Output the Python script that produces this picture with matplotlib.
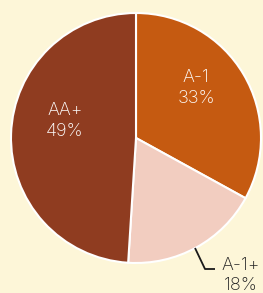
import matplotlib.pyplot as plt

labels = ['A-1', 'A-1+', 'AA+']
values = [33, 18, 49]
colors = ['#C55A11', '#F2CDC0', '#8F3C20']
bg = '#FDF6D8'

plt.rcParams['font.family'] = ['Inter', 'DejaVu Sans']

fig = plt.figure(figsize=(2.63, 2.93), dpi=100, facecolor=bg)
ax = fig.add_axes([0, 0, 1, 1])
ax.set_facecolor(bg)

wedges, _ = ax.pie(values, colors=colors, startangle=90, counterclock=False,
                   radius=1.0, wedgeprops=dict(edgecolor='white', linewidth=1.5))

# inside labels
ax.text(0.48, 0.40, 'A-1\n33%', color='white', fontsize=13, ha='center', va='center',
        linespacing=1.25, fontweight='light')
ax.text(-0.568, 0.136, 'AA+\n49%', color='white', fontsize=13, ha='center', va='center',
        linespacing=1.25, fontweight='light')

# outside label with leader line
ax.plot([0.472, 0.552, 0.632], [-0.88, -1.048, -1.048], color='#1a1a1a', lw=1.3,
        solid_capstyle='butt')
ax.text(0.84, -1.10, 'A-1+\n18%', color='#222222', fontsize=13, ha='center', va='center',
        linespacing=1.25, fontweight='light')

ax.set_xlim(-136 / 125, 127 / 125)
ax.set_ylim(-155 / 125, 138 / 125)
ax.set_aspect('auto')
ax.axis('off')

fig.savefig('out.png', dpi=100, facecolor=bg)
